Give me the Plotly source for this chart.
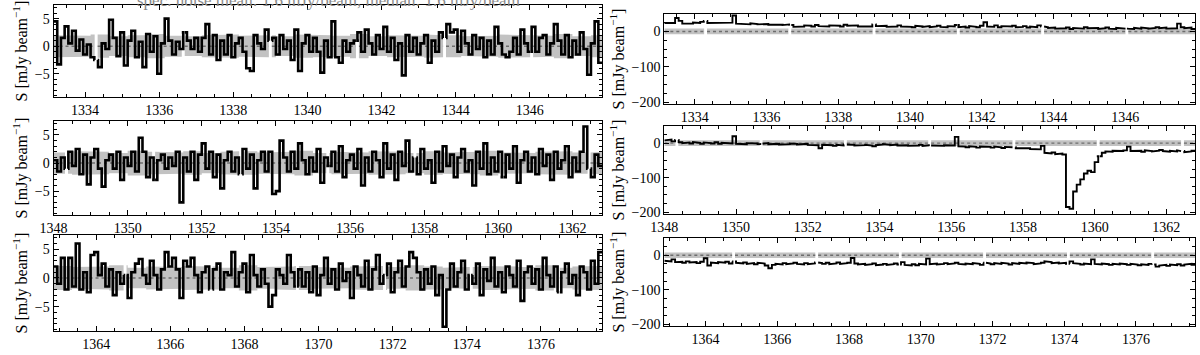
import plotly.graph_objects as go

# frequency grid (MHz): every row has 148 channels of 0.1 MHz
row_start = [1333.15, 1348.0, 1362.85]
row_range = [[1333.15, 1347.95], [1348.0, 1362.8], [1362.85, 1377.65]]
chan_width = 0.1

# spectral-window boundaries, where the spectra break
window_gaps = [1334.3, 1336.65, 1339.0, 1341.35, 1343.7, 1346.05,
               1348.35, 1350.7, 1353.05, 1355.4, 1357.75, 1360.1, 1362.45,
               1364.78, 1367.1, 1369.43, 1371.78, 1374.12, 1376.47]
gap_width = 0.08

# left column: zoomed spectra (mJy/beam)
tl_flux = [
    4.5, -3.3, 1.5, 3.6, 0.5, 2.8, -0.8, 1.2, -1.5, 0.3,
    -2.0, -2.5, -3.8, 0.5, -0.5, 4.8, 1.5, -1.8, 2.5, -3.5,
    1.0, 2.8, -2.0, 0.8, -3.8, 2.2, -1.0, 1.8, -5.0, 0.5,
    5.0, 1.0, -1.5, 0.8, -0.5, 2.5, 1.0, -0.5, 1.5, -1.0,
    1.5, 4.0, -1.5, 2.0, -2.5, 1.0, -1.5, 2.0, -2.0, 0.5,
    1.5, -1.0, -4.0, -4.5, 2.0, 0.5, -0.5, 3.0, 1.0, 1.5,
    -1.5, 2.0, -0.5, 1.0, -2.5, 3.0, -4.5, 0.5, 2.0, -1.0,
    1.5, -1.0, -4.8, 1.0, -2.0, 4.5, -2.0, -3.0, 1.0, -1.0,
    0.5, 1.0, 2.5, -1.0, 3.0, 0.5, -1.5, 2.0, -0.5, 3.5,
    -1.0, 1.5, -2.5, 0.5, -5.3, 2.0, -1.0, 1.5, -1.5, 0.5,
    2.0, -3.0, 1.0, -1.0, 2.5, 1.5, 4.0, 2.5, 3.0, -1.0,
    2.8, 0.5, -1.5, 2.0, -0.5, 1.5, -2.0, 1.0, -1.5, 3.5,
    0.5, -1.5, -2.0, -1.0, 1.5, -1.5, 3.0, 0.5, -1.0, 3.5,
    -1.0, 1.5, 2.0, -1.5, 0.5, 4.0, 1.0, -1.5, 2.0, -2.0,
    1.0, -1.5, 2.5, -0.5, -5.2, 0.5, 4.5, -3.0,
]
ml_flux = [
    0.5, -1.5, 1.0, -1.0, 2.0, -0.5, 2.5, -2.0, 1.5, -3.8,
    1.0, 2.5, -1.0, -4.2, 0.5, 1.5, -1.0, 2.0, -3.0, 1.0,
    -0.5, 2.0, -1.5, 4.5, 2.0, -2.5, 1.0, -3.0, 0.5, 1.5,
    -1.0, 1.0, -0.5, 2.0, -7.0, 1.0, -1.5, 2.0, -3.0, 1.5,
    3.5, -1.0, 2.0, -2.5, 1.5, -4.5, 0.5, 2.0, -1.5, 1.0,
    -2.0, 2.5, -1.0, 1.5, -4.5, 0.5, 2.0, -1.5, 2.0, -5.5,
    -5.0, 4.0, 1.0, -1.5, 2.0, -1.0, 3.5, 0.5, -2.0, 1.0,
    -1.5, 2.5, -3.5, 1.0, -0.5, 2.0, -1.5, 3.0, -2.5, 0.5,
    1.5, -1.0, 2.5, -4.0, 1.0, -1.5, 2.0, 0.5, -2.5, 3.5,
    -1.0, 1.5, -3.0, 2.0, -0.5, 4.0, -1.5, 1.0, -2.0, 2.5,
    -1.0, 0.5, -3.5, 2.0, -1.5, 3.0, -0.5, 1.5, -2.5, 1.0,
    2.5, -1.5, 0.5, -4.0, 2.0, -1.0, 3.5, -2.0, 1.0, -1.5,
    2.0, -2.5, 1.5, -1.0, 3.0, -3.5, 0.5, 2.0, -1.5, 1.0,
    -2.0, 2.5, -0.5, 1.5, -3.0, 2.0, -1.0, 0.5, 3.0, -2.5,
    1.0, -1.5, 2.0, 6.5, -1.0, -2.5, 1.5, -0.5,
]
bl_flux = [
    2.0, -1.0, 3.5, -2.0, 3.5, -1.5, 6.0, -2.0, 1.0, -2.5,
    4.0, 4.5, 0.5, 2.5, -1.5, 1.5, -3.0, 1.0, -1.0, 0.5,
    -3.5, 1.0, 2.5, 3.3, 0.5, -1.0, 3.0, 0.5, -2.0, 1.5,
    4.5, 2.0, 3.5, 1.5, -3.5, 3.0, 2.0, 3.5, 0.5, -2.5,
    1.0, 2.0, -2.0, 1.5, 2.5, -2.0, 1.0, 0.5, 4.5, -1.5,
    1.0, 2.5, -2.5, 4.0, 0.5, -1.5, 1.5, -1.0, -5.0, -3.0,
    1.5, 0.5, -1.0, 4.0, 1.0, -1.5, 1.5, -1.5, 1.0, -2.5,
    2.0, -3.0, 0.5, 3.5, -1.0, 1.5, -2.0, 2.5, -0.5, 1.0,
    -3.5, 2.0, 0.5, -1.5, 3.0, -2.0, 1.5, 4.0, -1.0, 0.5,
    2.5, -2.5, 1.0, 3.0, -1.5, 2.0, 4.5, 3.5, 1.0, -2.0,
    1.5, -1.0, 2.0, -3.0, 0.5, -8.5, -2.0, 2.5, -1.5, 1.0,
    3.0, -2.0, 0.5, -1.0, 2.5, -3.0, 1.5, -0.5, 3.5, -1.5,
    1.0, -2.5, 2.0, 0.5, -1.5, 3.0, -4.0, 1.0, 2.0, -1.0,
    1.5, -2.0, 3.5, 0.5, -1.5, 2.0, -2.5, 1.0, 2.5, -1.0,
    0.5, -3.0, 2.0, 1.0, -2.0, 3.0, -1.0, 4.5,
]

# noise envelope of the left spectra, per 0.5 MHz bin
noise_bin = 0.5
tl_noise = [2.0, 1.9, 2.1, 1.8, 2.0, 2.2, 1.9, 1.8, 2.0, 2.1, 1.9, 2.0, 1.8, 2.1, 2.0,
            1.9, 2.2, 1.8, 2.0, 1.9, 2.1, 2.0, 1.8, 1.9, 2.1, 2.0, 1.9, 2.2, 1.8, 2.0]
ml_noise = [1.9, 2.1, 2.0, 1.8, 2.2, 2.0, 1.9, 2.1, 1.8, 2.0, 2.1, 1.9, 2.0, 2.2, 1.8,
            2.0, 1.9, 2.1, 2.0, 1.8, 2.1, 1.9, 2.0, 2.2, 1.9, 1.8, 2.0, 2.1, 1.9, 2.0]
bl_noise = [2.1, 1.9, 2.0, 2.2, 1.8, 2.0, 1.9, 2.1, 2.0, 1.8, 2.2, 1.9, 2.0, 2.1, 1.9,
            1.8, 2.0, 2.1, 1.9, 2.2, 2.0, 1.8, 1.9, 2.1, 2.0, 1.9, 2.2, 1.8, 2.0, 2.1]

# right column: full-range spectra (mJy/beam)
rt_flux = [
    24, 26, 24, 38, 30, 22, 24, 22, 25, 24,
    27, 30, 24, 25, 24, 25, 24, 23, 25, 45,
    22, 21, 22, 20, 23, 21, 20, 22, 21, 19,
    21, 20, 19, 18, 20, 18, 13, 15, 14, 17,
    16, 14, 18, 15, 16, 14, 17, 15, 16, 14,
    19, 16, 15, 17, 14, 16, 15, 14, 20, 15,
    14, 16, 13, 15, 14, 17, 14, 15, 13, 12,
    16, 14, 13, 15, 12, 14, 16, 13, 12, 15,
    14, 18, 12, 14, 11, 15, 13, 12, 16, 26,
    14, 13, 17, 12, 15, 13, 14, 16, 12, 13,
    15, 11, 14, 12, 17, 14, 12, 10, 11, 8,
    10, 9, 11, 7, 10, 9, 8, 12, 9, 8,
    10, 7, 9, 11, 8, 7, 10, 9, 8, 9,
    7, 10, 8, 11, 9, 8, 10, 12, 9, 11,
    8, 10, 9, 22, 12, 9, 11, 7,
]
rm_flux = [
    8, 10, 5, 9, 3, 0, 2, -1, 3, 1,
    -2, 2, 0, -1, 3, -2, 1, 0, -1, 20,
    -2, -1, -3, 0, -2, -1, -3, -2, 0, -3,
    -1, -2, -4, -2, -3, -1, -2, -4, -3, -2,
    -5, -4, -6, -15, -5, -7, -6, -8, -5, -7,
    -4, -6, -5, -7, -8, -6, -5, -7, -9, -6,
    -4, -3, -5, -6, -4, -7, -5, -6, -8, -6,
    -7, -5, -8, -6, -7, -9, -7, -8, -6, -8,
    -7, 18, -9, -10, -12, -9, -11, -13, -10, -12,
    -11, -13, -10, -12, -14, -11, -13, -12, -15, -14,
    -16, -15, -17, -16, -18, -8, -28, -30, -27, -32,
    -30, -33, -185, -190, -140, -120, -105, -88, -80, -84,
    -55, -38, -28, -24, -25, -22, -24, -23, -21, -10,
    -23, -24, -22, -25, -21, -23, -24, -22, -20, -23,
    -25, -22, -24, -21, -23, -26, -24, -22,
]
rb_flux = [
    -16, -18, -12, -20, -19, -22, -18, -21, -20, -23,
    -19, -9, -30, -21, -23, -20, -22, -19, -24, -18,
    -22, -24, -21, -25, -23, -26, -22, -24, -30, -38,
    -28, -25, -27, -23, -26, -24, -22, -25, -27, -23,
    -26, -24, -21, -23, -25, -22, -26, -24, -21, -25,
    -23, -22, -8, -24, -27, -25, -28, -26, -24, -29,
    -27, -25, -28, -26, -24, -27, -20, -28, -30, -26,
    -29, -25, -27, -10, -26, -24, -27, -25, -23, -26,
    -24, -22, -25, -27, -24, -26, -23, -25, -28, -22,
    -24, -26, -23, -25, -22, -24, -27, -23, -25, -22,
    -24, -21, -23, -26, -24, -22, -18, -20, -23, -21,
    -24, -22, -25, -18, -23, -25, -27, -24, -26, -12,
    -25, -27, -24, -26, -28, -25, -27, -24, -26, -28,
    -25, -27, -29, -26, -28, -25, -27, -33, -30, -28,
    -31, -27, -29, -26, -30, -27, -25, -28,
]
right_noise = [8.0]  # one envelope for the whole row

title_text = "spec. noise mean: 1.6 mJy/beam, median: 1.6 mJy/beam"

SERIF = "Liberation Serif, Times New Roman, serif"
BAND = "#c2c2c2"


def step_xy(x0, vals):
    """Explicit histogram-step path, broken at the window gaps."""
    xs, ys = [], []
    for i, v in enumerate(vals):
        a, b = x0 + i * chan_width, x0 + (i + 1) * chan_width
        cuts = [g for g in window_gaps if a <= g < b]
        if cuts:
            g = cuts[0]
            xs += [a, g - gap_width / 2, None, g + gap_width / 2, b]
            ys += [v, v, None, v, v]
        else:
            xs += [a, b]
            ys += [v, v]
    return xs, ys


def segments(x0, x1):
    gaps = [g for g in window_gaps if x0 < g < x1]
    edges = [x0] + gaps + [x1]
    segs = []
    for k in range(len(edges) - 1):
        s = edges[k] + (gap_width / 2 if k > 0 else 0)
        e = edges[k + 1] - (gap_width / 2 if k < len(edges) - 2 else 0)
        segs.append((s, e))
    return segs


def band_xy(x0, x1, noise, bw):
    """+/- noise envelope as filled polygons, one per spectral window."""
    xs, ys = [], []
    for s, e in segments(x0, x1):
        bps = [s] + [x0 + j * bw for j in range(len(noise) + 1) if s < x0 + j * bw < e] + [e]
        ux, uy = [], []
        for j in range(len(bps) - 1):
            mid = (bps[j] + bps[j + 1]) / 2
            idx = min(int((mid - x0) / bw), len(noise) - 1)
            ux += [bps[j], bps[j + 1]]
            uy += [noise[idx], noise[idx]]
        xs += ux + ux[::-1] + [ux[0], None]
        ys += uy + [-y for y in uy[::-1]] + [uy[0], None]
    return xs, ys


def zero_xy(x0, x1):
    xs, ys = [], []
    for s, e in segments(x0, x1):
        xs += [s, e, None]
        ys += [0, 0, None]
    return xs, ys


panels = [
    (0, tl_flux, tl_noise, noise_bin),
    (1, ml_flux, ml_noise, noise_bin),
    (2, bl_flux, bl_noise, noise_bin),
    (0, rt_flux, right_noise, 15.0),
    (1, rm_flux, right_noise, 15.0),
    (2, rb_flux, right_noise, 15.0),
]

fig = go.Figure()
for k, (row, flux, noise, bw) in enumerate(panels):
    ax = "" if k == 0 else str(k + 1)
    x0, x1 = row_range[row]
    bx, by = band_xy(x0, x1, noise, bw)
    fig.add_trace(go.Scatter(x=bx, y=by, mode="lines", fill="toself", fillcolor=BAND,
                             line=dict(width=0), hoverinfo="skip", showlegend=False,
                             xaxis="x" + ax, yaxis="y" + ax))
    zx, zy = zero_xy(x0, x1)
    fig.add_trace(go.Scatter(x=zx, y=zy, mode="lines", line=dict(color="#6e6e6e", width=1.4, dash="dot"),
                             hoverinfo="skip", showlegend=False, xaxis="x" + ax, yaxis="y" + ax))
    sx, sy = step_xy(row_start[row], flux)
    fig.add_trace(go.Scatter(x=sx, y=sy, mode="lines", line=dict(color="black", width=2.6 if k < 3 else 1.9),
                             showlegend=False, xaxis="x" + ax, yaxis="y" + ax))

left_x = [40 / 1200, 595 / 1200]
right_x = [658 / 1200, 1195 / 1200]
left_rows = [(5, 99), (123, 219), (239, 337)]
right_rows = [(14, 106), (128, 218), (242, 332)]


def ydom(top, bottom):
    return [1 - bottom / 355, 1 - top / 355]


def axis_style(dtick, minor):
    return dict(showline=True, linecolor="black", linewidth=1, mirror="allticks",
                ticks="inside", ticklen=5, tickwidth=1, tickcolor="black",
                minor=dict(ticks="inside", ticklen=3, dtick=minor, tickcolor="black"),
                dtick=dtick, showgrid=False, zeroline=False,
                tickfont=dict(family=SERIF, size=14, color="black"))


layout = {}
for k in range(6):
    ax = "" if k == 0 else str(k + 1)
    row = k % 3
    left = k < 3
    xa = axis_style(2, 0.5)
    xa.update(domain=left_x if left else right_x, range=row_range[row], anchor="y" + ax)
    ya = axis_style(5 if left else 100, 1 if left else 25)
    top, bottom = (left_rows if left else right_rows)[row]
    ya.update(domain=ydom(top, bottom), range=[-9.3, 7.5] if left else [-206, 50], anchor="x" + ax,
              title=dict(text="S [mJy beam<sup>−1</sup>]", font=dict(family=SERIF, size=16, color="black"),
                         standoff=3))
    layout["xaxis" + ax] = xa
    layout["yaxis" + ax] = ya

fig.update_layout(**layout)
fig.update_layout(
    width=1200, height=355,
    margin=dict(l=0, r=0, t=0, b=0),
    paper_bgcolor="white", plot_bgcolor="white",
    font=dict(family=SERIF, color="black"),
    annotations=[dict(text=title_text, x=318 / 1200, y=1, xref="paper", yref="paper",
                      xanchor="center", yanchor="middle", showarrow=False,
                      font=dict(family=SERIF, size=17, color="#8a8a8a"))],
)

fig.write_html("out.html", config={"displayModeBar": False},
               post_script="document.body.style.margin='0';")
